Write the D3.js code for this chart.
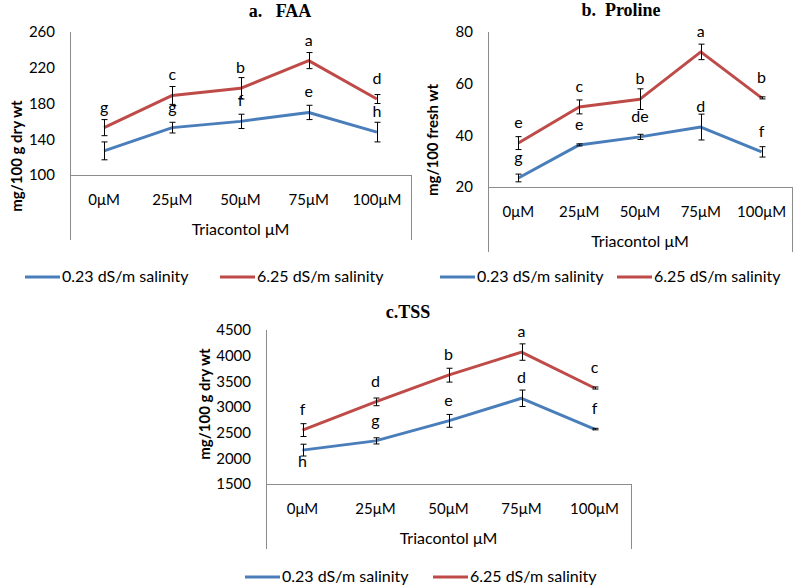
<!DOCTYPE html>
<html>
<head>
<meta charset="utf-8">
<script src="https://cdn.jsdelivr.net/npm/d3@7"></script>
<style>
  body { margin: 0; background: #fff; }
  svg text { font-family: Lato, "Open Sans", sans-serif; fill: #000; }
</style>
</head>
<body>
<div id="chart"></div>
<script>
// categories
const doses = ["0μM", "25μM", "50μM", "75μM", "100μM"];
const seriesNames = ["0.23 dS/m salinity", "6.25 dS/m salinity"];

// a. FAA
const faaLow = [127, 153, 160, 170, 148];
const faaLowErr = [10, 6, 8, 8, 11];
const faaHigh = [153, 189, 197, 228, 185];
const faaHighErr = [9, 10, 12, 9, 5];
const faaLowLetters = ["", "g", "f", "e", "h"];
const faaHighLetters = ["g", "c", "b", "a", "d"];
const faaTicks = [100, 140, 180, 220, 260];

// b. Proline
const proLow = [23.5, 36.3, 39.4, 43.2, 33.6];
const proLowErr = [1.5, 0.4, 1, 5, 2];
const proHigh = [37, 51, 54, 72.3, 54.5];
const proHighErr = [2.5, 2.7, 4, 3, 0.4];
const proLowLetters = ["g", "e", "de", "d", "f"];
const proHighLetters = ["e", "c", "b", "a", "b"];
const proTicks = [20, 40, 60, 80];

// c. TSS
const tssLow = [2160, 2340, 2730, 3170, 2570];
const tssLowErr = [115, 60, 125, 160, 15];
const tssHigh = [2550, 3100, 3620, 4070, 3370];
const tssHighErr = [125, 75, 135, 160, 20];
const tssLowLetters = ["h", "g", "e", "d", "f"];
const tssHighLetters = ["f", "d", "b", "a", "c"];
const tssTicks = [1500, 2000, 2500, 3000, 3500, 4000, 4500];

const colors = ["#4a7ebb", "#be4b48"];
const axisColor = "#8c8c8c";

const svg = d3.select("#chart").append("svg")
  .attr("width", 794)
  .attr("height", 587);

const panels = [
  {
    title: "a.   FAA", titleX: 280, titleY: 17,
    yTitle: "mg/100 g dry wt", yTitleX: 17, yTitleY: 156,
    ticks: faaTicks,
    values: [faaLow, faaHigh], errs: [faaLowErr, faaHighErr],
    letters: [faaLowLetters, faaHighLetters],
    left: 70, right: 411, top: 32, bottom: 175,
    legendY: 277, legendX: [25, 220]
  },
  {
    title: "b.  Proline", titleX: 621, titleY: 16,
    yTitle: "mg/100 fresh wt", yTitleX: 433, yTitleY: 140,
    ticks: proTicks,
    values: [proLow, proHigh], errs: [proLowErr, proHighErr],
    letters: [proLowLetters, proHighLetters],
    left: 488, right: 792, top: 32, bottom: 187,
    legendY: 277, legendX: [440, 617]
  },
  {
    title: "c.TSS", titleX: 408, titleY: 318,
    yTitle: "mg/100 g dry wt", yTitleX: 205, yTitleY: 404,
    ticks: tssTicks,
    values: [tssLow, tssHigh], errs: [tssLowErr, tssHighErr],
    letters: [tssLowLetters, tssHighLetters],
    below: [[0, 0]],
    left: 266, right: 631, top: 330, bottom: 484,
    legendY: 577, legendX: [245, 433]
  }
];

panels.forEach(function (p) {
  const g = svg.append("g");

  const x = d3.scaleBand()
    .domain(doses)
    .range([p.left, p.right])
    .padding(0);

  const y = d3.scaleLinear()
    .domain([d3.min(p.ticks), d3.max(p.ticks)])
    .range([p.bottom, p.top]);

  // frame lines (Excel style)
  g.append("line")
    .attr("x1", p.left + 0.5).attr("x2", p.left + 0.5)
    .attr("y1", p.top).attr("y2", p.bottom + 65)
    .attr("stroke", axisColor);
  g.append("line")
    .attr("x1", p.left).attr("x2", p.right)
    .attr("y1", p.bottom + 0.5).attr("y2", p.bottom + 0.5)
    .attr("stroke", axisColor);
  g.append("line")
    .attr("x1", p.right + 0.5).attr("x2", p.right + 0.5)
    .attr("y1", p.bottom).attr("y2", p.bottom + 65)
    .attr("stroke", axisColor);

  // y axis labels
  const yAxis = d3.axisLeft(y).tickValues(p.ticks).tickFormat(d3.format("d"))
    .tickSize(0).tickPadding(15);
  const ya = g.append("g")
    .attr("transform", "translate(" + p.left + ",0)")
    .call(yAxis);
  ya.select(".domain").remove();
  ya.selectAll("text").style("font-size", "15px").attr("fill", "#000");

  // x axis labels
  const xAxis = d3.axisBottom(x).tickSize(0).tickPadding(19);
  const xa = g.append("g")
    .attr("transform", "translate(0," + p.bottom + ")")
    .call(xAxis);
  xa.select(".domain").remove();
  xa.selectAll("text").style("font-size", "15px").attr("fill", "#000");

  // axis titles
  g.append("text")
    .attr("x", (p.left + p.right) / 2)
    .attr("y", p.bottom + 60)
    .attr("text-anchor", "middle")
    .style("font-size", "16px")
    .text("Triacontol μM");

  g.append("text")
    .attr("transform", "translate(" + p.yTitleX + "," + p.yTitleY + ") rotate(-90)")
    .attr("text-anchor", "middle")
    .attr("dy", "0.35em")
    .style("font-size", "15px")
    .style("font-weight", "bold")
    .text(p.yTitle);

  g.append("text")
    .attr("x", p.titleX)
    .attr("y", p.titleY)
    .attr("text-anchor", "middle")
    .style("font-family", "'Liberation Serif', 'Times New Roman', serif")
    .style("font-size", "18px")
    .style("font-weight", "bold")
    .style("white-space", "pre")
    .text(p.title);

  const cx = d => x(d) + x.bandwidth() / 2;

  // lines
  p.values.forEach(function (vals, s) {
    const line = d3.line()
      .x((d, i) => cx(doses[i]))
      .y(d => y(d));
    g.append("path")
      .datum(vals)
      .attr("d", line)
      .attr("fill", "none")
      .attr("stroke", colors[s])
      .attr("stroke-width", 3)
      .attr("stroke-linejoin", "round");
  });

  // error bars
  p.values.forEach(function (vals, s) {
    const eb = g.append("g").attr("stroke", "#000").attr("stroke-width", 1);
    vals.forEach(function (v, i) {
      const xx = Math.round(cx(doses[i])) + 0.5;
      const e = p.errs[s][i];
      const y1 = y(v + e), y2 = y(v - e);
      eb.append("line").attr("x1", xx).attr("x2", xx).attr("y1", y1).attr("y2", y2);
      eb.append("line").attr("x1", xx - 3).attr("x2", xx + 3).attr("y1", y1).attr("y2", y1);
      eb.append("line").attr("x1", xx - 3).attr("x2", xx + 3).attr("y1", y2).attr("y2", y2);
    });
  });

  // significance letters
  p.values.forEach(function (vals, s) {
    vals.forEach(function (v, i) {
      const isBelow = (p.below || []).some(b => b[0] === s && b[1] === i);
      g.append("text")
        .attr("x", cx(doses[i]))
        .attr("y", y(v) + (isBelow ? 17 : -15))
        .attr("text-anchor", "middle")
        .style("font-size", "16px")
        .text(p.letters[s][i]);
    });
  });

  // legend
  seriesNames.forEach(function (name, s) {
    const lx = p.legendX[s];
    g.append("line")
      .attr("x1", lx).attr("x2", lx + 35)
      .attr("y1", p.legendY).attr("y2", p.legendY)
      .attr("stroke", colors[s])
      .attr("stroke-width", 3);
    g.append("text")
      .attr("x", lx + 37)
      .attr("y", p.legendY + 5)
      .style("font-size", "16px")
      .text(name);
  });
});
</script>
</body>
</html>
